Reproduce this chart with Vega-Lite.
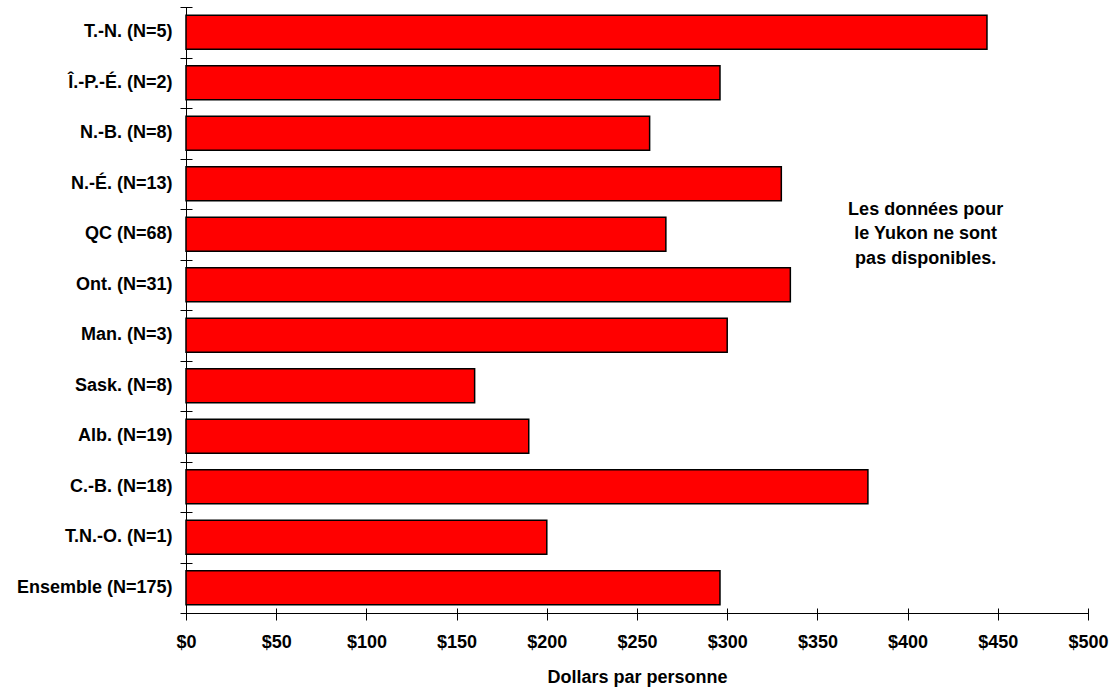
{
  "$schema": "https://vega.github.io/schema/vega-lite/v6.json",
  "autosize": "none",
  "padding": {"left": 186, "top": 7, "right": 22, "bottom": 77},
  "width": 902,
  "height": 606,
  "background": "#ffffff",
  "config": {
    "view": {"stroke": null},
    "font": "Liberation Sans",
    "axis": {
      "labelFont": "Liberation Sans",
      "labelFontWeight": "bold",
      "labelColor": "#000000",
      "titleFont": "Liberation Sans",
      "titleFontWeight": "bold",
      "titleColor": "#000000",
      "grid": false
    }
  },
  "data": {
    "values": [
      {"region": "T.-N. (N=5)", "dollars": 444},
      {"region": "Î.-P.-É. (N=2)", "dollars": 296},
      {"region": "N.-B. (N=8)", "dollars": 257},
      {"region": "N.-É. (N=13)", "dollars": 330},
      {"region": "QC (N=68)", "dollars": 266},
      {"region": "Ont. (N=31)", "dollars": 335},
      {"region": "Man. (N=3)", "dollars": 300},
      {"region": "Sask. (N=8)", "dollars": 160},
      {"region": "Alb. (N=19)", "dollars": 190},
      {"region": "C.-B. (N=18)", "dollars": 378},
      {"region": "T.N.-O. (N=1)", "dollars": 200},
      {"region": "Ensemble (N=175)", "dollars": 296}
    ]
  },
  "layer": [
    {
      "mark": {"type": "bar", "fill": "#FF0000", "stroke": "#000000", "strokeWidth": 1.5, "height": {"band": 0.67}},
      "encoding": {
        "y": {
          "field": "region",
          "type": "nominal",
          "sort": null,
          "scale": {"paddingInner": 0, "paddingOuter": 0},
          "axis": {
            "orient": "left",
            "title": null,
            "ticks": false,
            "tickSize": 0,
            "labelPadding": 14,
            "labelFontSize": 18,
            "domainColor": "#000000",
            "domainWidth": 1
          }
        },
        "x": {
          "field": "dollars",
          "type": "quantitative",
          "scale": {"domain": [0, 500], "nice": false},
          "axis": {
            "orient": "bottom",
            "title": "Dollars par personne",
            "values": [0, 50, 100, 150, 200, 250, 300, 350, 400, 450, 500],
            "format": "$.0f",
            "ticks": false,
            "tickSize": 0,
            "labelPadding": 20,
            "labelFontSize": 18,
            "labelFlush": false,
            "labelOverlap": false,
            "titleFontSize": 18,
            "titlePadding": 17,
            "domainColor": "#000000",
            "domainWidth": 1
          }
        }
      }
    },
    {
      "mark": {"type": "bar", "opacity": 0, "height": {"band": 0.67}},
      "encoding": {
        "y": {
          "field": "region",
          "type": "nominal",
          "sort": null,
          "axis": {
            "orient": "left",
            "title": null,
            "labels": false,
            "domain": false,
            "ticks": true,
            "tickBand": "extent",
            "tickSize": 12,
            "offset": -6,
            "tickColor": "#000000",
            "tickWidth": 1
          }
        },
        "x": {
          "field": "dollars",
          "type": "quantitative",
          "axis": {
            "orient": "bottom",
            "title": null,
            "labels": false,
            "domain": false,
            "ticks": true,
            "values": [0, 50, 100, 150, 200, 250, 300, 350, 400, 450, 500],
            "tickSize": 12,
            "offset": -5,
            "tickColor": "#000000",
            "tickWidth": 1
          }
        }
      }
    },
    {
      "data": {"values": [{"note": "Les données pour\nle Yukon ne sont\npas disponibles.", "xpos": 410, "ypos": "QC (N=68)"}]},
      "mark": {
        "type": "text",
        "font": "Liberation Sans",
        "fontWeight": "bold",
        "fontSize": 18,
        "lineHeight": 24.5,
        "lineBreak": "\n",
        "align": "center",
        "baseline": "middle",
        "dy": -24.5,
        "color": "#000000"
      },
      "encoding": {
        "text": {"field": "note"},
        "x": {"field": "xpos", "type": "quantitative", "axis": null},
        "y": {"field": "ypos", "type": "nominal", "sort": null, "axis": null}
      }
    }
  ],
  "resolve": {"axis": {"x": "independent", "y": "independent"}}
}
